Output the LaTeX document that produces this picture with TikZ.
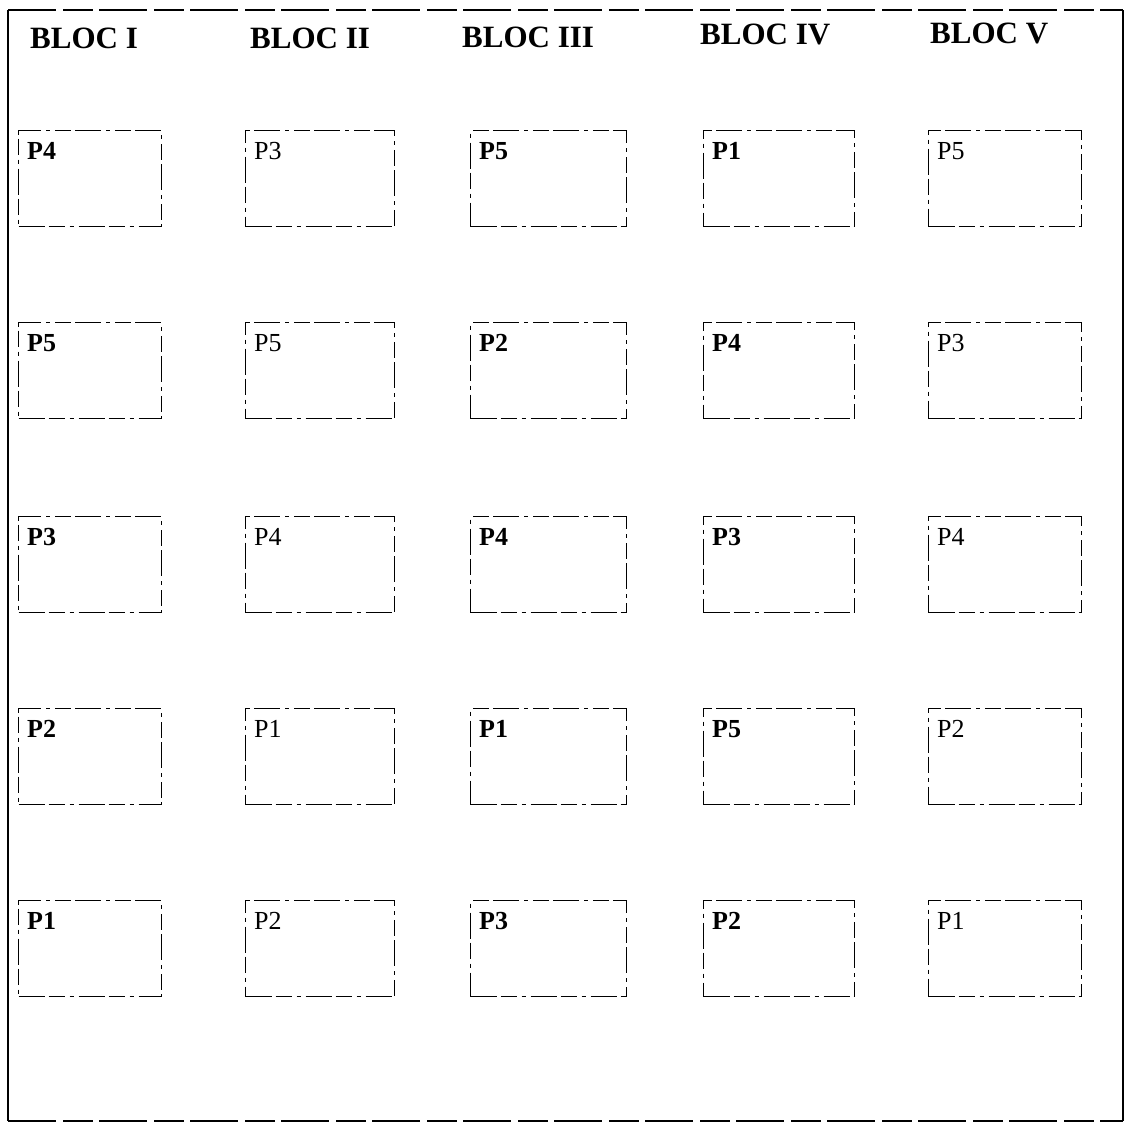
\documentclass[tikz,border=0pt]{standalone}
\usepackage{fontspec}
\setmainfont{Liberation Serif}
\begin{document}
\begin{tikzpicture}[x=1pt,y=-1pt,
  frameline/.style={line width=1.6pt,black},
  framedash/.style={line width=1.6pt,black,dash pattern=on 48pt off 7pt on 30pt off 6pt},
  plot/.style={draw,line width=1.1pt,rectangle,inner sep=0pt,anchor=north west,
    dash pattern=on 26pt off 4pt on 16pt off 5pt on 4pt off 5pt},
  head/.style={anchor=base west,inner sep=0pt,font=\fontsize{31}{34}\selectfont\bfseries},
  plabb/.style={anchor=base west,inner sep=0pt,font=\fontsize{26}{28}\selectfont\bfseries},
  plabr/.style={anchor=base west,inner sep=0pt,font=\fontsize{26}{28}\selectfont}]
\useasboundingbox (0,0) rectangle (1127,1125);
% outer frame
\coordinate (ftl) at (8,10);
\coordinate (ftr) at (1123,10);
\coordinate (fbr) at (1123,1121);
\coordinate (fbl) at (8,1121);
\draw[frameline] (ftl) -- (fbl);
\draw[frameline] (ftr) -- (fbr);
\draw[framedash] (ftl) -- (ftr);
\draw[framedash] (fbl) -- (fbr);
% headers
\node[head] (h1) at (30,48) {BLOC I};
\node[head] (h2) at (250,48) {BLOC II};
\node[head] (h3) at (462,47) {BLOC III};
\node[head] (h4) at (700,44) {BLOC IV};
\node[head] (h5) at (930,43) {BLOC V};
% plots
\foreach \c/\x/\w in {1/18/143,2/245/149,3/470/156,4/703/151,5/928/153}{
  \foreach \r/\y in {1/130,2/322,3/516,4/708,5/900}{
    \node[plot,minimum width=\w pt,minimum height=96pt] (b\r\c) at (\x,\y) {};
  }
}
% labels: row 1
\node[plabb] (l11) at ([xshift=9pt,yshift=-29pt]b11.north west) {P4};
\node[plabr] (l12) at ([xshift=9pt,yshift=-29pt]b12.north west) {P3};
\node[plabb] (l13) at ([xshift=9pt,yshift=-29pt]b13.north west) {P5};
\node[plabb] (l14) at ([xshift=9pt,yshift=-29pt]b14.north west) {P1};
\node[plabr] (l15) at ([xshift=9pt,yshift=-29pt]b15.north west) {P5};
% row 2
\node[plabb] (l21) at ([xshift=9pt,yshift=-29pt]b21.north west) {P5};
\node[plabr] (l22) at ([xshift=9pt,yshift=-29pt]b22.north west) {P5};
\node[plabb] (l23) at ([xshift=9pt,yshift=-29pt]b23.north west) {P2};
\node[plabb] (l24) at ([xshift=9pt,yshift=-29pt]b24.north west) {P4};
\node[plabr] (l25) at ([xshift=9pt,yshift=-29pt]b25.north west) {P3};
% row 3
\node[plabb] (l31) at ([xshift=9pt,yshift=-29pt]b31.north west) {P3};
\node[plabr] (l32) at ([xshift=9pt,yshift=-29pt]b32.north west) {P4};
\node[plabb] (l33) at ([xshift=9pt,yshift=-29pt]b33.north west) {P4};
\node[plabb] (l34) at ([xshift=9pt,yshift=-29pt]b34.north west) {P3};
\node[plabr] (l35) at ([xshift=9pt,yshift=-29pt]b35.north west) {P4};
% row 4
\node[plabb] (l41) at ([xshift=9pt,yshift=-29pt]b41.north west) {P2};
\node[plabr] (l42) at ([xshift=9pt,yshift=-29pt]b42.north west) {P1};
\node[plabb] (l43) at ([xshift=9pt,yshift=-29pt]b43.north west) {P1};
\node[plabb] (l44) at ([xshift=9pt,yshift=-29pt]b44.north west) {P5};
\node[plabr] (l45) at ([xshift=9pt,yshift=-29pt]b45.north west) {P2};
% row 5
\node[plabb] (l51) at ([xshift=9pt,yshift=-29pt]b51.north west) {P1};
\node[plabr] (l52) at ([xshift=9pt,yshift=-29pt]b52.north west) {P2};
\node[plabb] (l53) at ([xshift=9pt,yshift=-29pt]b53.north west) {P3};
\node[plabb] (l54) at ([xshift=9pt,yshift=-29pt]b54.north west) {P2};
\node[plabr] (l55) at ([xshift=9pt,yshift=-29pt]b55.north west) {P1};
\end{tikzpicture}
\end{document}
